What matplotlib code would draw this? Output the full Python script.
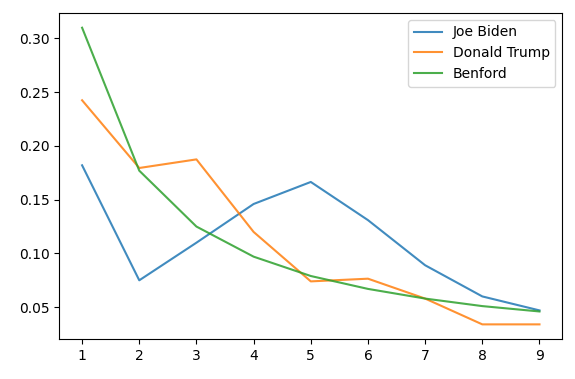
import matplotlib
matplotlib.use('Agg')
import matplotlib.pyplot as plt

digits = [1, 2, 3, 4, 5, 6, 7, 8, 9]
biden = [0.182, 0.075, 0.110, 0.146, 0.1665, 0.131, 0.089, 0.060, 0.047]
trump = [0.2425, 0.1795, 0.1875, 0.120, 0.074, 0.0765, 0.058, 0.034, 0.034]
benford = [0.310, 0.177, 0.125, 0.097, 0.079, 0.067, 0.058, 0.051, 0.046]

fig = plt.figure(figsize=(5.75, 3.79), dpi=100)
ax = fig.add_axes([0.103, 0.105, 0.875, 0.861])
ax.plot(digits, biden, label='Joe Biden', alpha=0.85)
ax.plot(digits, trump, label='Donald Trump', alpha=0.85)
ax.plot(digits, benford, label='Benford', alpha=0.85)
ax.legend(loc='upper right')

fig.savefig('out.png', dpi=100)
